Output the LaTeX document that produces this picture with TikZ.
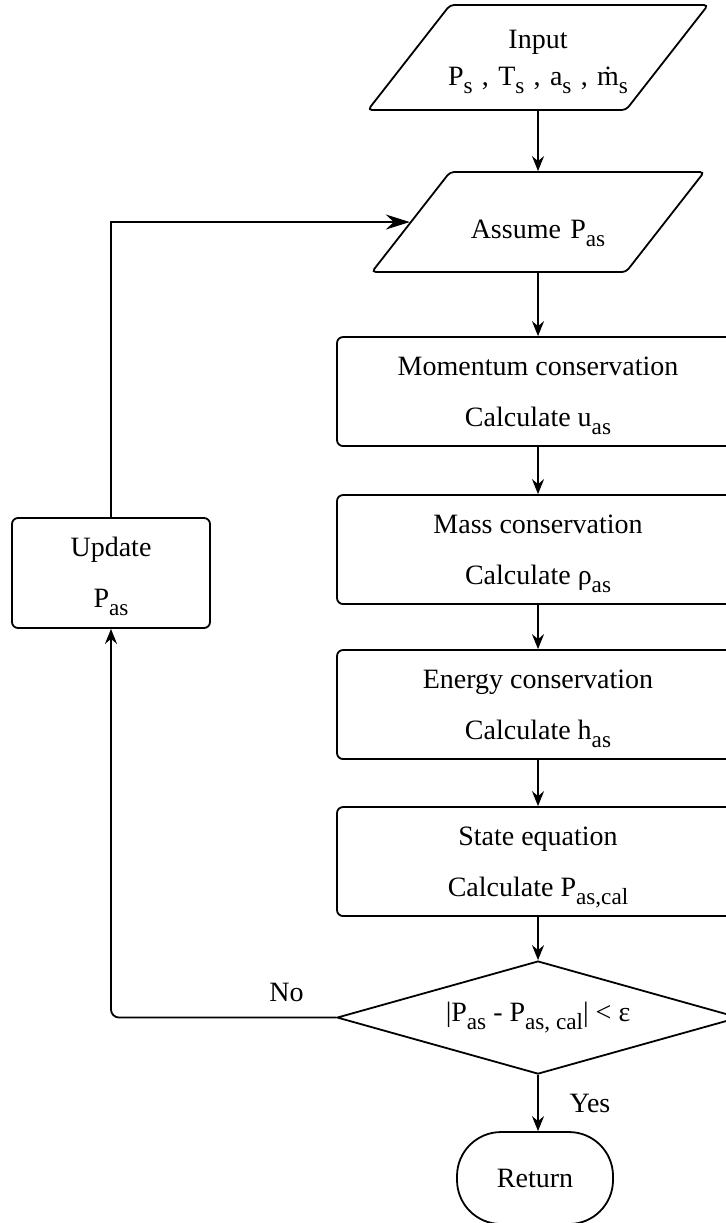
\documentclass[tikz,border=0pt]{standalone}
\usepackage{fontspec}
\setmainfont{Liberation Serif}
\usetikzlibrary{positioning, shapes.geometric, arrows.meta}

\newcommand{\subtxt}[1]{\raisebox{-4.3pt}{\fontsize{11.6}{13}\selectfont #1}}

\begin{document}
\begin{tikzpicture}[node distance=23.5pt, every node/.style={font=\fontsize{14}{17}\selectfont},
    io/.style={trapezium, trapezium left angle=52, trapezium right angle=128, draw, line width=0.9pt,
        rounded corners=2pt, text width=104pt, align=center, inner xsep=-8pt,
        text height=16pt, text depth=0pt, inner ysep=17pt},
    process/.style={rectangle, draw, line width=0.9pt, rounded corners=3pt, minimum width=201pt, align=center,
        text height=36.5pt, text depth=2pt, inner ysep=8pt},
    decision/.style={diamond, aspect=3.56, draw, line width=0.9pt, minimum width=201pt, minimum height=56.5pt, inner sep=0pt},
    terminal/.style={rectangle, draw, line width=0.9pt, rounded corners=22pt, minimum width=78pt, minimum height=46pt},
    flow/.style={-{Stealth[length=7.5pt, width=6pt, inset=2.5pt]}, line width=0.9pt},
    back/.style={-{Stealth[length=12pt, width=7.5pt, inset=4pt]}, line width=0.9pt}]
    \useasboundingbox (0,0) rectangle (363pt,-611.5pt);
    % Main column
    \node[io, text height=10pt, text depth=19.5pt, inner ysep=11.5pt] (input) at (269pt,-28.75pt)
        {Input\\[1.5pt] P\subtxt{s} , T\subtxt{s} , a\subtxt{s} , ṁ\subtxt{s}};
    \node[io, below=30.1pt of input] (assume) {Assume P\subtxt{as}};
    \node[process, below=31.6pt of assume] (momentum) {Momentum conservation\\[8.5pt] Calculate u\subtxt{as}};
    \node[process, below=23.6pt of momentum] (mass) {Mass conservation\\[8.5pt] Calculate ρ\subtxt{as}};
    \node[process, below=22.1pt of mass] (energy) {Energy conservation\\[8.5pt] Calculate h\subtxt{as}};
    \node[process, below=23.1pt of energy] (state) {State equation\\[8.5pt] Calculate P\subtxt{as,cal}};
    \node[decision, below=21.6pt of state] (check) {|P\subtxt{as} - P\subtxt{as, cal}| < ε};
    \node[terminal, below=28.1pt of check, xshift=-1.5pt] (return) {Return};
    % Loop back
    \node[process, minimum width=99pt, text depth=2.5pt] (update) at (55.5pt,-286.5pt) {Update\\[8.5pt] P\subtxt{as}};
    % Connections
    \draw[flow] (input) -- (assume);
    \foreach \a/\b in {assume/momentum, momentum/mass, mass/energy, energy/state, state/check}
        \draw[flow] (\a) -- (\b);
    \draw[flow] (check) -- (check |- return.north) node[midway, right=12pt] {Yes};
    \draw[flow, rounded corners=4pt] (check.west) -| (update.south) node[pos=0.11, above=4pt] {No};
    \draw[back] (update.north) |- (assume.west);
\end{tikzpicture}
\end{document}
